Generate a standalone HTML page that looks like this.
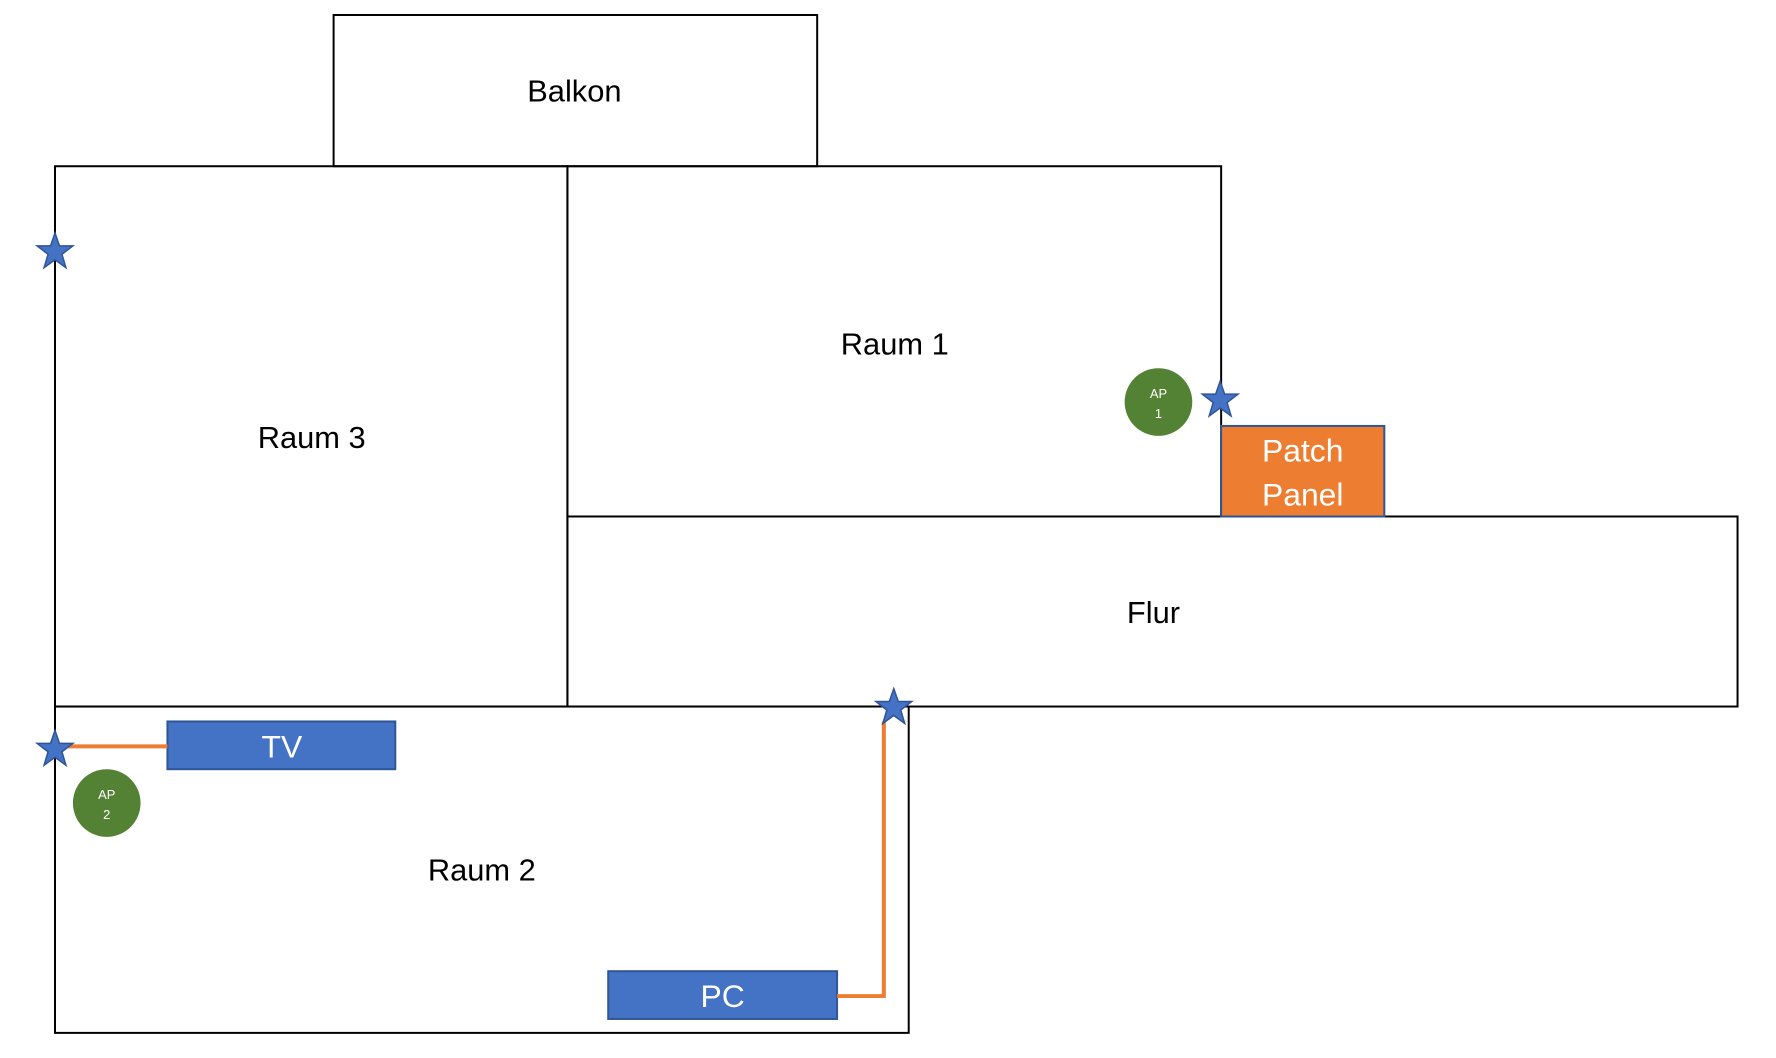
<!DOCTYPE html>
<html><head><meta charset="utf-8"><style>html,body{margin:0;padding:0;background:#fff}</style></head>
<body>
<svg width="1776" height="1053" viewBox="0 0 1776 1053" xmlns="http://www.w3.org/2000/svg" font-family="Liberation Sans, sans-serif">
<defs>
<polygon id="st" points="0,-19 4.5,-6 18,-6 7,2.5 11,16 0,8 -11,16 -7,2.5 -18,-6 -4.5,-6" fill="#4472c4" stroke="#2f5597" stroke-width="1.5"/>
</defs>
<g transform="translate(55,15) scale(0.995) translate(-55,-15)">
<g fill="none" stroke="#000" stroke-width="2">
<rect x="335" y="15" width="486" height="152"/>
<rect x="55" y="167" width="515" height="543"/>
<rect x="570" y="167" width="657" height="352"/>
<rect x="570" y="519" width="1176" height="191"/>
<rect x="55" y="710" width="858" height="328"/>
</g>
<rect x="1227" y="428" width="164" height="91" fill="#ed7d31" stroke="#2f5597" stroke-width="2"/>
<rect x="168" y="725" width="229" height="48" fill="#4472c4" stroke="#2f5597" stroke-width="2"/>
<rect x="611" y="976" width="230" height="48" fill="#4472c4" stroke="#2f5597" stroke-width="2"/>
<polyline points="841,1001 888,1001 888,725" fill="none" stroke="#ed7d31" stroke-width="4"/>
<line x1="60" y1="750" x2="168" y2="750" stroke="#ed7d31" stroke-width="4"/>
<circle cx="1164" cy="404" r="34" fill="#548235"/>
<circle cx="107" cy="807" r="34" fill="#548235"/>
<use href="#st" x="55" y="253"/>
<use href="#st" x="1226" y="402"/>
<use href="#st" x="55" y="753"/>
<use href="#st" x="898" y="711"/>
<g font-size="31" text-anchor="middle" fill="#000">
<text x="577" y="102">Balkon</text>
<text x="899" y="356">Raum 1</text>
<text x="313" y="450">Raum 3</text>
<text x="1159" y="626">Flur</text>
<text x="484" y="885">Raum 2</text>
</g>
<g font-size="32" text-anchor="middle" fill="#fff">
<text x="1309" y="464">Patch</text>
<text x="1309" y="508">Panel</text>
<text x="283" y="761">TV</text>
<text x="726" y="1012">PC</text>
</g>
<g font-size="13" text-anchor="middle" fill="#fff">
<text x="1164" y="400">AP</text>
<text x="1164" y="420">1</text>
<text x="107" y="803">AP</text>
<text x="107" y="823">2</text>
</g>
</g>
</svg>
</body></html>
